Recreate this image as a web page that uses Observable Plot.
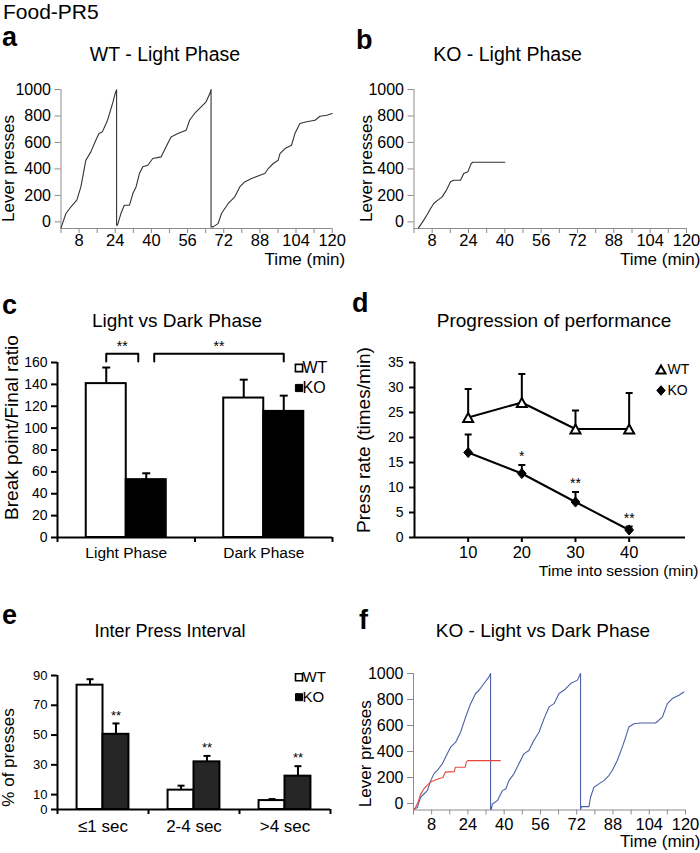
<!DOCTYPE html>
<html><head><meta charset="utf-8">
<script src="https://cdn.jsdelivr.net/npm/d3@7"></script>
<script src="https://cdn.jsdelivr.net/npm/@observablehq/plot@0.6"></script>
<style>
body{margin:0;background:#fff;}
#fig{position:relative;width:700px;height:853px;overflow:hidden;background:#fff;font-family:'Liberation Sans',Arial,Helvetica,sans-serif;color:#000;}
.t{position:absolute;white-space:nowrap;}
</style></head><body><div id="fig"></div>
<script>
// ---------------- DATA ----------------
// cumulative-record panels (a, b, f): [time (min), lever presses]
const timeTicks = [0,8,16,24,32,40,48,56,64,72,80,88,96,104,112,120];
const timeTickLabels = [8,24,40,56,72,88,104,120];
const pressTicks = [0,200,400,600,800,1000];

const wtLightRecord = [
[0,-45],[2.2,63],[4.4,114],[7,164],[8.8,265],[11,466],[13.2,529],[15.4,617],[16.8,668],[18.3,680],[20.6,768],[22.8,894],[24,970],[24.6,998],[24.6,-25],
[25,-25],[26.5,63],[28,126],[30.3,126],[31.8,214],[33.2,264],[34.7,365],[36.2,416],[38.4,428],[40.6,479],[44.3,491],[46.5,567],[48.7,642],[51.7,667],[55.4,693],[56.9,768],[59.1,819],[62,869],[64.2,907],[66,975],[66.4,1000],[66.4,-38],
[67.3,-38],[69.5,-13],[71,63],[74,139],[76.9,189],[79.1,264],[81.3,302],[84.3,327],[88,353],[90.2,365],[91.7,403],[93.9,441],[96.1,466],[96.9,516],[99.1,554],[102,579],[103.5,667],[105.7,743],[108.7,756],[112.4,768],[114.6,798],[117.6,806],[120,819]];

const koLightRecord = [
[2,-45],[4.3,13],[6.1,63],[7.3,101],[8.7,139],[10.5,164],[12.4,189],[14.3,240],[16.1,303],[17.5,315],[20.5,315],[21.9,365],[23.7,378],[25.2,441],[25.9,450],[40,450]];

const koDarkRecord = [
[0.2,-45],[1.7,-30],[3.1,48],[4.6,73],[6.1,99],[7.6,176],[9,228],[10.5,254],[12.7,305],[14.9,382],[16.4,434],[18.6,472],[20.8,550],[23,665],[25.2,768],[27.4,846],[28.9,871],[31.1,923],[33.3,974],[34,1000],[34,-45],
[34.3,-45],[34.8,-4],[37,22],[39.2,99],[40.7,112],[42.1,176],[44.3,228],[46.5,305],[48.7,382],[50.9,408],[53.1,485],[55.4,550],[57.6,653],[59.8,743],[62,768],[64.2,846],[66.4,871],[69.3,923],[72.3,949],[73.7,1000],[73.7,-45],
[74.2,-24],[77.4,-24],[78.1,48],[79.6,125],[81.8,151],[84,176],[86.2,215],[87.7,254],[89.9,331],[92.1,434],[93.6,511],[95,588],[97.3,614],[100.2,619],[106.8,619],[109.8,665],[112,768],[114.2,807],[117.1,833],[119.3,858]];

const koLightRecordF = [
[0.5,-45],[2,10],[3.1,70],[4.5,110],[6,140],[7.5,165],[11,190],[13,200],[14,241],[18,245],[18.5,279],[22.8,280],[23.3,318],[24,330],[38.3,330]];

// panel c: break point / final ratio
const phases = ["Light Phase","Dark Phase"];
const wtBreak = [140.7,127.5];
const wtBreakSem = [14.7,16.8];
const koBreak = [52.9,115.3];
const koBreakSem = [5.8,14.4];
const breakTicks = [0,20,40,60,80,100,120,140,160];
// significance brackets (bar to bar); insets keep the two brackets apart
const brackets = [
  {from:[0,"WT"], to:[0,"KO"], label:"**", insetFrom:0, insetTo:0.058},
  {from:[0,"KO"], to:[1,"KO"], label:"**", insetFrom:0.058, insetTo:0}
];

// panel d: press rate
const sessionTimes = [10,20,30,40];
const wtRate = [24.0,27.0,21.7,21.7];
const wtRateSem = [5.7,5.7,3.7,7.2];
const koRate = [17.0,12.8,7.1,1.5];
const koRateSem = [3.6,1.7,2.0,0.7];
const koRateStars = ["","*","**","**"];
const rateTicks = [0,5,10,15,20,25,30,35];

// panel e: inter press interval
const intervals = ["\u22641 sec","2-4 sec",">4 sec"];
const wtIpi = [83.5,13.0,6.0];
const wtIpiSem = [4.0,3.0,1.0];
const koIpi = [50.5,32.0,22.4];
const koIpiSem = [7.3,4.0,6.7];
const koIpiStars = ["**","**","**"];
const ipiTicks = [0,10,30,50,70,90];

// ---------------- STYLE ----------------
const FONT = "'Liberation Sans', Arial, Helvetica, sans-serif";
const GRAY = "#8c8c8c";
const BLUE = "#4d5fa6";
const RED = "#e5483b";
const fig = document.getElementById("fig");
const baseStyle = {fontFamily: FONT, fontSize: "16px", background: "transparent", overflow: "visible", color: "black"};
const plain = d => String(d);

const rOf = size => Math.sqrt(size / Math.PI);
const capSym = {draw(ctx, size){const r = rOf(size); ctx.moveTo(-r,0); ctx.lineTo(r,0);}};
const triSym = {draw(ctx, size){const r = rOf(size), h = r*0.9; ctx.moveTo(0,-h); ctx.lineTo(r,h); ctx.lineTo(-r,h); ctx.closePath();}};
const diaSym = {draw(ctx, size){const r = rOf(size); ctx.moveTo(0,-r*1.1); ctx.lineTo(r*0.95,0); ctx.lineTo(0,r*1.1); ctx.lineTo(-r*0.95,0); ctx.closePath();}};
const sqSym = {draw(ctx, size){const r = rOf(size); ctx.rect(-r,-r,2*r,2*r);}};

function mount(el, left, top){ el.style.position="absolute"; el.style.left=left+"px"; el.style.top=top+"px"; fig.appendChild(el); }
function txt(s, x, baseline, size, opts = {}){
  const d = document.createElement("div");
  d.className = "t"; d.textContent = s;
  d.style.fontSize = size+"px"; d.style.lineHeight = size+"px";
  d.style.top = (baseline - 0.8465*size) + "px";
  d.style.left = x + "px";
  if (opts.middle) d.style.transform = "translateX(-50%)";
  if (opts.bold) d.style.fontWeight = "bold";
  fig.appendChild(d);
}
// axis titles and tick labels, placed through the plot's scales / frame
function yLabel(s, dx, dy, fs){
  return Plot.text([s], {text: d => d, frameAnchor: "left", textAnchor: "middle", lineAnchor: "middle", rotate: -90, dx, dy, fontSize: fs});
}
function xLabel(s, dx, dy, fs){
  return Plot.text([s], {text: d => d, frameAnchor: "bottom-right", textAnchor: "end", lineAnchor: "middle", dx, dy, fontSize: fs});
}
function yTickLabels(ticks, fs, dx){
  return Plot.text(ticks, {y: d => d, text: plain, frameAnchor: "left", textAnchor: "end", lineAnchor: "middle", dx, fontSize: fs});
}
function xTickLabels(ticks, fmt, fs, dy){
  return Plot.text(ticks, {x: d => d, text: fmt, frameAnchor: "bottom", textAnchor: "middle", lineAnchor: "middle", dy, fontSize: fs});
}

// ---------------- cumulative record panels ----------------
function recordPanel(records, o){
  return Plot.plot({
    width: 350, height: o.h, marginLeft: o.ml, marginRight: o.mr, marginTop: o.mt, marginBottom: o.mb,
    x: {domain: [0,120]}, y: {domain: [-50,1000]},
    style: baseStyle,
    marks: [
      Plot.ruleY([-50], {x1: 0, x2: 120, stroke: GRAY}),
      Plot.ruleX([0], {y1: -50, y2: 1000, stroke: GRAY}),
      Plot.axisY({ticks: pressTicks, tickSize: 6, stroke: GRAY, fill: "none", label: null}),
      Plot.axisX({ticks: timeTicks, tickSize: 5, stroke: GRAY, fill: "none", label: null}),
      yTickLabels(pressTicks, 16, -10),
      xTickLabels(timeTickLabels, plain, 16.5, o.xdy),
      ...records.map(r => Plot.line(r.data, {x: d => d[0], y: d => d[1], stroke: r.color, strokeWidth: 1.1})),
      xLabel("Time (min)", o.tdx, o.tdy, 17),
      yLabel("Lever presses", o.ydx, o.ydy, 17)
    ]
  });
}

mount(recordPanel([{data: wtLightRecord, color: "#333"}],
  {h:200, ml:60.5, mr:18.3, mt:19, mb:42, xdy:12, tdx:13, tdy:31, ydx:-52.5, ydy:9.5}), 0, 70);
mount(recordPanel([{data: koLightRecord, color: "#333"}],
  {h:200, ml:63.5, mr:14, mt:19, mb:42, xdy:12, tdx:14, tdy:31, ydx:-47.5, ydy:9.5}), 350, 70);
mount(recordPanel([{data: koDarkRecord, color: BLUE}, {data: koLightRecordF, color: RED}],
  {h:200, ml:63, mr:15, mt:23, mb:40.5, xdy:15, tdx:15, tdy:32, ydx:-48, ydy:12}), 350, 650);

// ---------------- grouped bar panels (c, e) ----------------
function barRows(cats, wt, wtSem, ko, koSem, stars, barW){
  return cats.flatMap((c, i) => [
    {cat: c, i, series: "WT", mean: wt[i], sem: wtSem[i], center: i + 1 - barW/2, star: ""},
    {cat: c, i, series: "KO", mean: ko[i], sem: koSem[i], center: i + 1 + barW/2, star: stars ? stars[i] : ""}
  ]);
}
function legendMarks(o){
  return [
    Plot.dot(["WT"], {frameAnchor: "top-right", dx: o.sx, dy: o.y1, symbol: o.sym1, r: o.r, fill: o.fill1, stroke: "black", strokeWidth: o.sw1}),
    Plot.dot(["KO"], {frameAnchor: "top-right", dx: o.sx, dy: o.y2, symbol: o.sym2, r: o.r2 ?? o.r, fill: "black", stroke: "black", strokeWidth: 1}),
    Plot.text(["WT"], {text: d => d, frameAnchor: "top-right", textAnchor: "start", lineAnchor: "middle", dx: o.tx, dy: o.y1, fontSize: o.fs}),
    Plot.text(["KO"], {text: d => d, frameAnchor: "top-right", textAnchor: "start", lineAnchor: "middle", dx: o.tx, dy: o.y2, fontSize: o.fs})
  ];
}
function barPanel(cats, rows, o){
  const n = cats.length;
  const xd = [0.5, n + 0.5];
  const bounds = d3.range(n + 1).map(k => k + 0.5);
  const bw = o.barW;
  return Plot.plot({
    width: 350, height: o.h, marginLeft: o.ml, marginRight: o.mr, marginTop: o.mt, marginBottom: o.mb,
    x: {domain: xd}, y: {domain: o.yd},
    style: baseStyle,
    marks: [
      Plot.rect(rows.filter(d => d.series === "WT"), {x1: d => d.center - bw/2, x2: d => d.center + bw/2, y1: 0, y2: "mean", fill: "white", stroke: "black", strokeWidth: 2}),
      Plot.rect(rows.filter(d => d.series === "KO"), {x1: d => d.center - bw/2, x2: d => d.center + bw/2, y1: 0, y2: "mean", fill: o.koFill, stroke: "black", strokeWidth: 2}),
      Plot.ruleX(rows, {x: "center", y1: "mean", y2: d => d.mean + d.sem, strokeWidth: 2}),
      Plot.dot(rows, {x: "center", y: d => d.mean + d.sem, symbol: capSym, r: o.cap, fill: "none", stroke: "black", strokeWidth: 2}),
      Plot.text(rows.filter(d => d.star), {x: "center", y: d => d.mean + d.sem, text: "star", dy: -8, fontSize: o.starFs}),
      Plot.ruleY([o.yd[0]], {x1: xd[0], x2: xd[1], strokeWidth: 2}),
      Plot.ruleX([xd[0]], {y1: o.yd[0], y2: o.yd[1], strokeWidth: 2}),
      Plot.axisY({ticks: o.yTicks, tickSize: 6, strokeWidth: 2, fill: "none", label: null}),
      Plot.axisX({ticks: bounds, tickSize: 5, strokeWidth: 2, fill: "none", label: null}),
      yTickLabels(o.yTicks, o.yFs, -10),
      xTickLabels(d3.range(1, n + 1), k => cats[k - 1], o.xFs, o.xdy),
      yLabel(o.ylabel, o.ydx, o.ydy, o.ylFs),
      ...(o.extra || []),
      ...legendMarks(o.legend)
    ]
  });
}

// panel c
const BAR_C = 0.291;
const rowsC = barRows(phases, wtBreak, wtBreakSem, koBreak, koBreakSem, null, BAR_C);
const BRACKET_TOP = 168, BRACKET_LEG = 7;
const barCenter = (k, s) => rowsC.find(d => d.i === k && d.series === s).center;
const bracketEnds = brackets.map(b => [barCenter(...b.from) + b.insetFrom, barCenter(...b.to) - b.insetTo]);
const bracketPts = bracketEnds.flatMap(([x1, x2], j) =>
  [[x1, BRACKET_TOP - BRACKET_LEG], [x1, BRACKET_TOP], [x2, BRACKET_TOP], [x2, BRACKET_TOP - BRACKET_LEG]].map(p => ({x: p[0], y: p[1], id: j})));
const bracketLabels = brackets.map((b, j) => ({x: (bracketEnds[j][0] + bracketEnds[j][1]) / 2, y: BRACKET_TOP, label: b.label}));
mount(barPanel(phases, rowsC, {
  h: 235, ml: 57, mr: 18, mt: 32, mb: 28, yd: [0,160], yTicks: breakTicks, barW: BAR_C, koFill: "black",
  cap: 4, starFs: 14, yFs: 14, xFs: 15.5, xdy: 16,
  ylabel: "Break point/Final ratio", ydx: -46, ydy: -22.5, ylFs: 19,
  extra: [
    Plot.line(bracketPts, {x: "x", y: "y", z: "id", strokeWidth: 2}),
    Plot.text(bracketLabels, {x: "x", y: "y", text: "label", dy: -7, fontSize: 14})
  ],
  legend: {sx: -33.5, tx: -30, y1: 5.5, y2: 25.5, sym1: sqSym, sym2: sqSym, r: 3.6, fill1: "white", sw1: 1.6, fs: 16}
}), 0, 330);

// panel e
const BAR_E = 0.285;
const rowsE = barRows(intervals, wtIpi, wtIpiSem, koIpi, koIpiSem, koIpiStars, BAR_E);
mount(barPanel(intervals, rowsE, {
  h: 200, ml: 57, mr: 20, mt: 35, mb: 31, yd: [0,90], yTicks: ipiTicks, barW: BAR_E, koFill: "#262626",
  cap: 3.5, starFs: 13, yFs: 13, xFs: 17, xdy: 17,
  ylabel: "% of presses", ydx: -48.5, ydy: 15, ylFs: 17,
  legend: {sx: -31.5, tx: -28, y1: 1.7, y2: 21.7, sym1: sqSym, sym2: sqSym, r: 3.5, fill1: "white", sw1: 1.6, fs: 15}
}), 0, 640);

// ---------------- panel d: line chart ----------------
const wtRows = sessionTimes.map((t, i) => ({t, mean: wtRate[i], sem: wtRateSem[i], star: ""}));
const koRows = sessionTimes.map((t, i) => ({t, mean: koRate[i], sem: koRateSem[i], star: koRateStars[i]}));
const allRows = [...wtRows, ...koRows];
const XD_D = [0, 50.5], YD_D = [0, 35];
mount(Plot.plot({
  width: 350, height: 245, marginLeft: 64, marginRight: 15, marginTop: 32, marginBottom: 38,
  x: {domain: XD_D}, y: {domain: YD_D},
  style: baseStyle,
  marks: [
    Plot.ruleY([YD_D[0]], {x1: XD_D[0], x2: XD_D[1], strokeWidth: 2}),
    Plot.ruleX([XD_D[0]], {y1: YD_D[0], y2: YD_D[1], strokeWidth: 2}),
    Plot.axisY({ticks: rateTicks, tickSize: 5, strokeWidth: 2, fill: "none", label: null}),
    Plot.axisX({ticks: sessionTimes, tickSize: 5, strokeWidth: 2, fill: "none", label: null}),
    yTickLabels(rateTicks, 14, -11),
    xTickLabels(sessionTimes, plain, 16.5, 15),
    Plot.line(wtRows, {x: "t", y: "mean", strokeWidth: 2}),
    Plot.line(koRows, {x: "t", y: "mean", strokeWidth: 2}),
    Plot.ruleX(allRows, {x: "t", y1: "mean", y2: d => d.mean + d.sem, strokeWidth: 2}),
    Plot.dot(allRows, {x: "t", y: d => d.mean + d.sem, symbol: capSym, r: 3.5, fill: "none", stroke: "black", strokeWidth: 2}),
    Plot.dot(wtRows, {x: "t", y: "mean", symbol: triSym, r: 5, fill: "white", stroke: "black", strokeWidth: 2}),
    Plot.dot(koRows, {x: "t", y: "mean", symbol: diaSym, r: 4.6, fill: "black", stroke: "black", strokeWidth: 1}),
    Plot.text(koRows.filter(d => d.star), {x: "t", y: d => d.mean + d.sem, text: "star", dy: -8, fontSize: 14}),
    xLabel("Time into session (min)", 13, 34, 15.5),
    yLabel("Press rate (times/min)", -50.5, -10, 19),
    ...legendMarks({sx: -24.5, tx: -18, y1: 7, y2: 28, sym1: triSym, sym2: diaSym, r: 4.5, r2: 4.4, fill1: "white", sw1: 2, fs: 14})
  ]
}), 350, 330);

// ---------------- titles and panel letters ----------------
txt("Food-PR5", 3, 19, 21);
txt("a", 2, 47, 27, {bold: true});
txt("WT - Light Phase", 165, 62, 19.5, {middle: true});
txt("b", 356, 50, 27, {bold: true});
txt("KO - Light Phase", 507.5, 62, 19.5, {middle: true});
txt("c", 2, 315, 27, {bold: true});
txt("Light vs Dark Phase", 177, 327, 19, {middle: true});
txt("d", 352, 313, 27, {bold: true});
txt("Progression of performance", 554, 327, 19, {middle: true});
txt("e", 2, 625, 27, {bold: true});
txt("Inter Press Interval", 170, 637, 18, {middle: true});
txt("f", 359, 630, 27, {bold: true});
txt("KO - Light vs Dark Phase", 543, 637, 19, {middle: true});
</script></body></html>
